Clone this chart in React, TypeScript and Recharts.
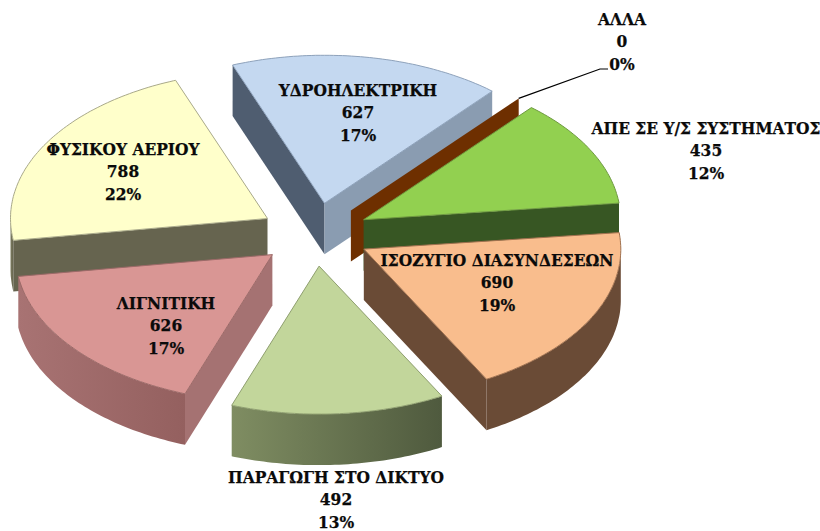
import React from 'react';
import { PieChart, Pie } from 'recharts';

// clockwise from the fysiko aerio slice, so later slices paint over earlier ones
const CATEGORIES = [
  'ΦΥΣΙΚΟΥ ΑΕΡΙΟΥ',
  'ΥΔΡΟΗΛΕΚΤΡΙΚΗ',
  'ΑΛΛΑ',
  'ΑΠΕ ΣΕ Υ/Σ ΣΥΣΤΗΜΑΤΟΣ',
  'ΙΣΟΖΥΓΙΟ ΔΙΑΣΥΝΔΕΣΕΩΝ',
  'ΠΑΡΑΓΩΓΗ ΣΤΟ ΔΙΚΤΥΟ',
  'ΛΙΓΝΙΤΙΚΗ',
];
const VALUES = [788, 627, 0, 435, 690, 492, 626];

const TOP_COLORS = ['#FFFFCB', '#C4D8F0', '#6E2F00', '#92D050', '#F9BD8D', '#C2D69B', '#D99694'];
const EDGE_COLORS = ['#a9a98a', '#8ea2bb', '#6E2F00', '#6f9a42', '#a0714f', '#8f9f70', '#9c6a68'];
const START_WALL = ['#66644F', '#4F5D70', '#6E2F00', '#375623', '#6A4B36', '#5d6a45', '#A57272'];
const END_WALL = ['#66644F', '#8A9CB1', '#6E2F00', '#375623', '#6A4B36', '#5d6a45', '#A57272'];
const ARC_LEFT = ['#7c7b5f', '#8A9CB1', '#6E2F00', '#375623', '#6A4B36', '#7F8D62', '#A87373'];
const ARC_RIGHT = ['#66644F', '#8A9CB1', '#6E2F00', '#375623', '#6A4B36', '#4F5A3E', '#94605F'];

// centre x and first line y of each label, same order as CATEGORIES
const LABEL_X = [123, 358, 622, 706, 497, 336, 166];
const LABEL_Y = [149, 90, 19, 128, 260, 477, 303];

const WIDTH = 820;
const HEIGHT = 531;
const CX = 315;
const CY = 234.5;
const RADIUS = 257;
const TILT = 0.576;
const EXPLODE = 55;
const DEPTH = 51;
const LINE_H = 22.3;
const RAD = Math.PI / 180;

const chartData = CATEGORIES.map((name, i) => ({ name, value: VALUES[i] }));
const total = VALUES.reduce((a, b) => a + b, 0);

function project(a: number, r: number, ox: number, oy: number) {
  return { x: ox + r * Math.cos(a * RAD), y: oy - TILT * r * Math.sin(a * RAD) };
}

function apexOf(startAngle: number, endAngle: number) {
  return project((startAngle + endAngle) / 2, EXPLODE, CX, CY);
}

const toPath = (pts: { x: number; y: number }[]) =>
  pts.map((p, i) => (i ? 'L' : 'M') + p.x.toFixed(1) + ' ' + p.y.toFixed(1)).join(' ') + ' Z';

function Slice3D(props: any) {
  const { startAngle, endAngle, outerRadius, name } = props;
  const i = CATEGORIES.indexOf(name);
  const apex = apexOf(startAngle, endAngle);
  const drop = (p: { x: number; y: number }) => ({ x: p.x, y: p.y + DEPTH });

  const arc: { a: number; x: number; y: number }[] = [];
  for (let a = startAngle; a > endAngle; a -= 1) {
    arc.push({ a, ...project(a, outerRadius, apex.x, apex.y) });
  }
  arc.push({ a: endAngle, ...project(endAngle, outerRadius, apex.x, apex.y) });

  const first = arc[0];
  const last = arc[arc.length - 1];
  const front = arc.filter((p) => Math.sin(p.a * RAD) < 0.001);
  const gradId = 'arc-wall-' + i;

  return (
    <g>
      <defs>
        <linearGradient id={gradId} x1="0" y1="0" x2="1" y2="0">
          <stop offset="0%" stopColor={ARC_LEFT[i]} />
          <stop offset="100%" stopColor={ARC_RIGHT[i]} />
        </linearGradient>
      </defs>
      {Math.cos(startAngle * RAD) < 0 && (
        <path d={toPath([apex, first, drop(first), drop(apex)])} fill={START_WALL[i]} />
      )}
      {Math.cos(endAngle * RAD) > 0 && (
        <path d={toPath([apex, last, drop(last), drop(apex)])} fill={END_WALL[i]} />
      )}
      {front.length > 1 && (
        <path d={toPath([...front, ...front.map(drop).reverse()])} fill={`url(#${gradId})`} />
      )}
      {startAngle !== endAngle && (
        <path d={toPath([apex, ...arc])} fill={TOP_COLORS[i]} stroke={EDGE_COLORS[i]} strokeWidth={1} />
      )}
    </g>
  );
}

function SliceLabel(props: any) {
  const { name, value, startAngle, endAngle, outerRadius } = props;
  const i = CATEGORIES.indexOf(name);
  const x = LABEL_X[i];
  const y = LABEL_Y[i];
  const lines = [name, String(value), Math.round((value / total) * 100) + '%'];
  const apex = apexOf(startAngle, endAngle);
  const tip = project(endAngle, outerRadius, apex.x, apex.y);
  return (
    <g>
      {value === 0 && (
        <polyline
          points={`${tip.x},${tip.y} 600,69 608,69`}
          fill="none"
          stroke="#000"
          strokeWidth={1.2}
        />
      )}
      {lines.map((t, k) => (
        <text
          key={k}
          x={x}
          y={y + k * LINE_H}
          textAnchor="middle"
          dominantBaseline="central"
          fontFamily="'DejaVu Serif Condensed', 'DejaVu Serif', serif"
          fontWeight="bold"
          fontSize={17.2}
          stroke="#0a0a0a"
          strokeWidth={0.25}
          fill="#0a0a0a"
        >
          {t}
        </text>
      ))}
    </g>
  );
}

export default function App() {
  return (
    <div style={{ position: 'absolute', left: 0, top: 0, width: WIDTH, height: HEIGHT, background: '#fff' }}>
      <PieChart width={WIDTH} height={HEIGHT} margin={{ top: 0, right: 0, bottom: 0, left: 0 }}>
        <Pie
          data={chartData}
          dataKey="value"
          nameKey="name"
          cx={CX}
          cy={CY}
          innerRadius={0}
          outerRadius={RADIUS}
          startAngle={188.5}
          endAngle={-171.5}
          paddingAngle={0}
          stroke="none"
          isAnimationActive={false}
          shape={Slice3D}
          label={SliceLabel}
          labelLine={false}
        />
      </PieChart>
    </div>
  );
}
